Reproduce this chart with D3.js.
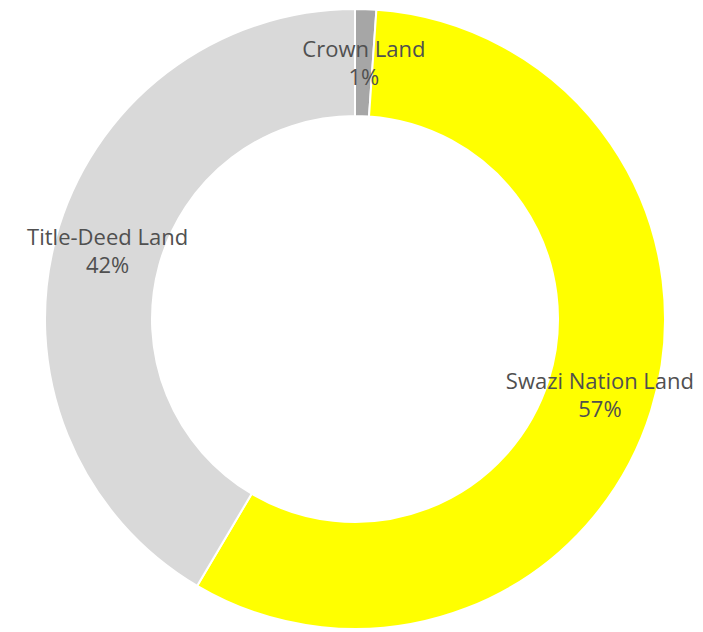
<!DOCTYPE html>
<html>
<head>
<meta charset="utf-8">
<script src="https://cdn.jsdelivr.net/npm/d3@7"></script>
<style>
  body { margin: 0; background: #fff; }
  text { font-family: "Open Sans", "Liberation Sans", sans-serif; }
</style>
</head>
<body>
<svg id="chart" width="703" height="632"></svg>
<script>
const categories = ["Crown Land", "Swazi Nation Land", "Title-Deed Land"]
const values = [1.1, 57.4, 41.5]
const pctLabels = ["1%", "57%", "42%"]
const colors = ["#a6a6a6", "#ffff00", "#d9d9d9"]

const svg = d3.select("#chart")
const cx = 355, cy = 319
const outerR = 310, innerR = 203

const g = svg.append("g").attr("transform", `translate(${cx},${cy})`)

const pie = d3.pie().sort(null).value(d => d)
const arcs = pie(values)

const arc = d3.arc().innerRadius(innerR).outerRadius(outerR)

g.selectAll("path")
    .data(arcs)
    .join("path")
    .attr("d", arc)
    .attr("fill", (d, i) => colors[i])
    .attr("stroke", "#fff")
    .attr("stroke-width", 2)

const labels = g.selectAll("text.lbl")
    .data(arcs)
    .join("text")
    .attr("class", "lbl")
    .attr("transform", d => `translate(${arc.centroid(d)})`)
    .attr("text-anchor", "middle")
    .attr("fill", "#505050")
    .style("font-size", "22px")

labels.append("tspan")
    .attr("x", 0)
    .attr("y", -6)
    .text((d, i) => categories[i])

labels.append("tspan")
    .attr("x", 0)
    .attr("y", 22)
    .text((d, i) => pctLabels[i])
</script>
</body>
</html>
